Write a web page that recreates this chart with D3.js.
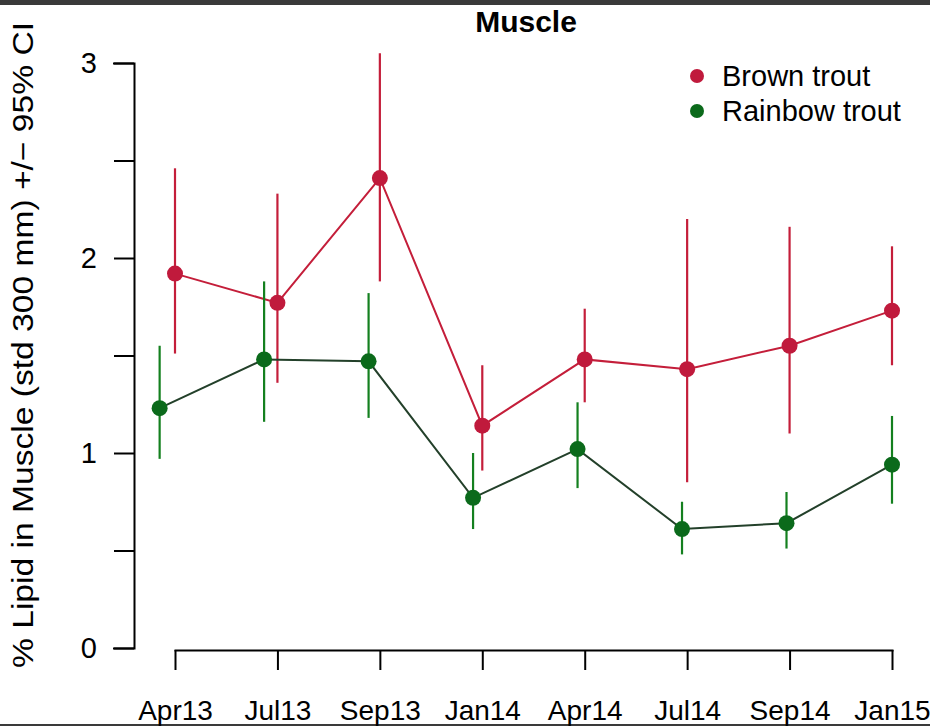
<!DOCTYPE html>
<meta charset="utf-8">
<html>
<style>
  body { margin: 0; background: #fff; }
  .chart text { font-family: "Liberation Sans", Arial, sans-serif; fill: #000; }
  .axis path, .axis line { stroke: #000; stroke-width: 2; fill: none; }
</style>
<script src="https://cdn.jsdelivr.net/npm/d3@7"></script>
<body>
  <svg class="chart"></svg>
</body>
<script>
  var width = 930;
  var height = 726;

  // sampling dates
  var months = ["Apr13", "Jul13", "Sep13", "Jan14", "Apr14", "Jul14", "Sep14", "Jan15"];

  // brown trout: mean and 95% CI
  var brownMean = [1.92, 1.77, 2.41, 1.14, 1.48, 1.43, 1.55, 1.73];
  var brownLo = [1.51, 1.36, 1.88, 0.91, 1.26, 0.85, 1.10, 1.45];
  var brownHi = [2.46, 2.33, 3.05, 1.45, 1.74, 2.20, 2.16, 2.06];

  // rainbow trout: mean and 95% CI (plotted slightly left of the date)
  var rainbowPos = [-0.15, 0.87, 1.89, 2.91, 3.93, 4.95, 5.97, 7];
  var rainbowMean = [1.23, 1.48, 1.47, 0.77, 1.02, 0.61, 0.64, 0.94];
  var rainbowLo = [0.97, 1.16, 1.18, 0.61, 0.82, 0.48, 0.51, 0.74];
  var rainbowHi = [1.55, 1.88, 1.82, 1.00, 1.26, 0.75, 0.80, 1.19];

  var yTicks = [0, 0.5, 1, 1.5, 2, 2.5, 3];
  var yLabels = [0, 1, 2, 3];

  var series = [
    { name: "Brown trout", pos: d3.range(months.length), mean: brownMean, lo: brownLo, hi: brownHi,
      col: "#c01a3c", ci: "#c41e3a", line: "#c41e3a" },
    { name: "Rainbow trout", pos: rainbowPos, mean: rainbowMean, lo: rainbowLo, hi: rainbowHi,
      col: "#0b6a1b", ci: "#14801f", line: "#23402a" }
  ];

  var svg = d3.select(".chart")
    .attr("width", width)
    .attr("height", height);

  svg.append("rect").attr("width", width).attr("height", height).attr("fill", "#fff");
  // dark frame strips of the screenshot
  svg.append("rect").attr("x", 0).attr("y", 0).attr("width", width).attr("height", 5).attr("fill", "#3a3a3a");
  svg.append("rect").attr("x", 0).attr("y", height - 2).attr("width", width).attr("height", 2).attr("fill", "#3a3a3a");

  var x = d3.scaleLinear().domain([0, months.length - 1]).range([175, 892]);
  var y = d3.scaleLinear().domain([0, 3]).range([648, 63]);

  // y axis
  var yAxis = svg.append("g").attr("class", "axis")
    .attr("transform", "translate(134,0)")
    .call(d3.axisLeft(y).tickValues(yTicks).tickSize(20).tickFormat(""));
  yAxis.selectAll("text").remove();
  svg.selectAll(".ylab")
    .data(yLabels)
    .enter().append("text")
    .attr("class", "ylab")
    .attr("x", 97)
    .attr("y", function(d) { return y(d); })
    .attr("dy", "0.36em")
    .attr("text-anchor", "end")
    .style("font-size", "29px")
    .text(function(d) { return d; });

  // x axis
  svg.append("g").attr("class", "axis")
    .attr("transform", "translate(0,650)")
    .call(d3.axisBottom(x).tickValues(d3.range(months.length)).tickSize(20)
      .tickSizeOuter(0).tickFormat(function(i) { return months[i]; }))
    .selectAll("text")
    .attr("y", 70)
    .attr("dy", 0)
    .style("font-size", "28px")
    .style("font-family", "Liberation Sans, Arial, sans-serif")
    .attr("fill", "#000");
  svg.selectAll(".axis .domain").attr("stroke-linecap", "square");

  // title
  svg.append("text")
    .attr("x", 526)
    .attr("y", 32)
    .attr("text-anchor", "middle")
    .style("font-size", "30px")
    .style("font-weight", "bold")
    .text("Muscle");

  // y axis title
  svg.append("text")
    .attr("transform", "translate(33,345) rotate(-90)")
    .attr("text-anchor", "middle")
    .attr("textLength", 646)
    .attr("lengthAdjust", "spacingAndGlyphs")
    .style("font-size", "29px")
    .text("% Lipid in Muscle (std 300 mm) +/\u2212 95% CI");

  var line = d3.line();

  series.forEach(function(s) {
    var g = svg.append("g");
    var idx = d3.range(months.length);

    g.append("path")
      .attr("d", line(idx.map(function(i) { return [x(s.pos[i]), y(s.mean[i])]; })))
      .attr("fill", "none")
      .attr("stroke", s.line)
      .attr("stroke-width", 2);

    g.selectAll(".ci")
      .data(idx)
      .enter().append("line")
      .attr("x1", function(i) { return x(s.pos[i]); })
      .attr("x2", function(i) { return x(s.pos[i]); })
      .attr("y1", function(i) { return y(s.lo[i]); })
      .attr("y2", function(i) { return y(s.hi[i]); })
      .attr("stroke", s.ci)
      .attr("stroke-width", 2.2);

    g.selectAll(".pt")
      .data(idx)
      .enter().append("circle")
      .attr("cx", function(i) { return x(s.pos[i]); })
      .attr("cy", function(i) { return y(s.mean[i]); })
      .attr("r", 8)
      .attr("fill", s.col);
  });

  // legend
  var leg = svg.selectAll(".leg")
    .data(series)
    .enter().append("g")
    .attr("transform", function(d, i) { return "translate(697," + (76 + i * 35) + ")"; });
  leg.append("circle").attr("r", 7).attr("fill", function(d) { return d.col; });
  leg.append("text")
    .attr("x", 25)
    .attr("dy", "0.36em")
    .style("font-size", "29px")
    .text(function(d) { return d.name; });
</script>
</html>
